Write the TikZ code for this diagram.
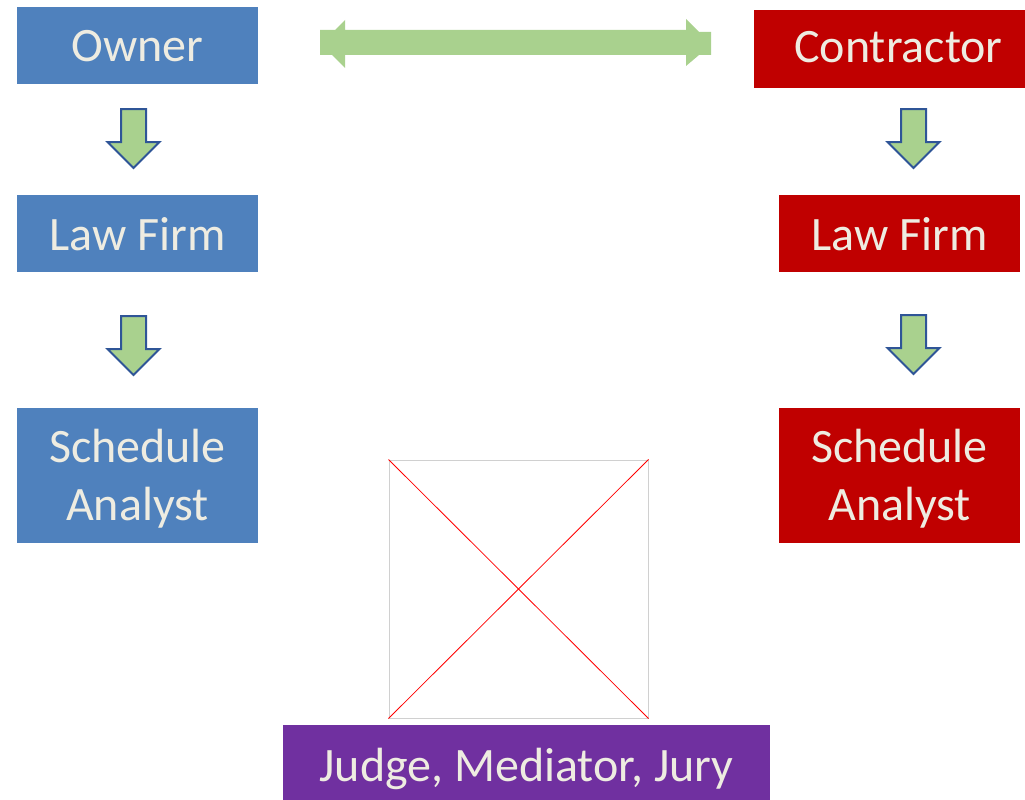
\documentclass[tikz,border=0pt]{standalone}
\usepackage{fontspec}
\setmainfont{Carlito}
\definecolor{ownblue}{HTML}{4F81BD}
\definecolor{conred}{HTML}{C00000}
\definecolor{judgepurple}{HTML}{7030A0}
\definecolor{arrgreen}{HTML}{A9D18E}
\definecolor{arrline}{HTML}{2F5597}
\definecolor{boxtext}{HTML}{EEECE1}
\definecolor{phgray}{HTML}{D0D0D0}
\tikzset{
  rolebox/.style={rectangle, inner sep=0pt},
  roletext/.style={inner sep=0pt, text=boxtext, align=center, anchor=base,
    font=\fontsize{48}{58}\selectfont},
  downarrow/.style={fill=arrgreen, draw=arrline, line width=2pt, line join=miter},
  bigarrow/.style={fill=arrgreen, draw=none},
}
\begin{document}
\begin{tikzpicture}[x=1pt,y=-1pt]
\useasboundingbox (0,0) rectangle (1025,800);
% boxes
\node[rolebox, fill=ownblue, minimum width=241pt, minimum height=77pt] (owner) at (137.5,45.5) {};
\node[rolebox, fill=conred, minimum width=271pt, minimum height=78pt] (contractor) at (889.5,49) {};
\node[rolebox, fill=ownblue, minimum width=241pt, minimum height=77pt] (lawL) at (137.5,233.5) {};
\node[rolebox, fill=conred, minimum width=241pt, minimum height=77pt] (lawR) at (899.5,233.5) {};
\node[rolebox, fill=ownblue, minimum width=241pt, minimum height=135pt] (schedL) at (137.5,475.5) {};
\node[rolebox, fill=conred, minimum width=241pt, minimum height=135pt] (schedR) at (899.5,475.5) {};
\node[rolebox, fill=judgepurple, minimum width=487pt, minimum height=75pt] (judge) at (526.5,762.5) {};
% texts
\node[roletext] (ownerT) at (owner |- 0,62) {Owner};
\node[roletext] (contractorT) at (898.5,63) {Contractor};
\node[roletext] (lawLT) at (lawL |- 0,250) {Law Firm};
\node[roletext] (lawRT) at (lawR |- 0,250) {Law Firm};
\node[roletext] (schedLT) at (schedL |- 0,520) {Schedule\\Analyst};
\node[roletext] (schedRT) at (schedR |- 0,520) {Schedule\\Analyst};
\node[roletext] (judgeT) at (judge |- 0,781) {Judge, Mediator, Jury};
% picture placeholder
\node[draw=phgray, line width=1pt, minimum width=259pt, minimum height=258pt, inner sep=0pt] (ph) at (518.5,589) {};
\draw[red, line width=0.8pt] (ph.north west) -- (ph.south east);
\draw[red, line width=0.8pt] (ph.south west) -- (ph.north east);
% double arrow between owner and contractor
\draw[bigarrow] (320,30) -- (335,30) -- (345,20) -- (345,30) -- (686,30) -- (686,19) -- (699,32) -- (711,32)
  -- (711,55) -- (699,55) -- (686,66) -- (686,55) -- (345,55) -- (345,68) -- (332,55) -- (320,55) -- cycle;
% down block arrows
\foreach \cx/\ty in {133.5/109, 133.5/316, 913.5/109, 913.5/315}{
  \draw[downarrow] (\cx-12.5,\ty) -- (\cx+12.5,\ty) -- (\cx+12.5,\ty+33) -- (\cx+26,\ty+33)
    -- (\cx,\ty+59) -- (\cx-26,\ty+33) -- (\cx-12.5,\ty+33) -- cycle;
}
\end{tikzpicture}
\end{document}
